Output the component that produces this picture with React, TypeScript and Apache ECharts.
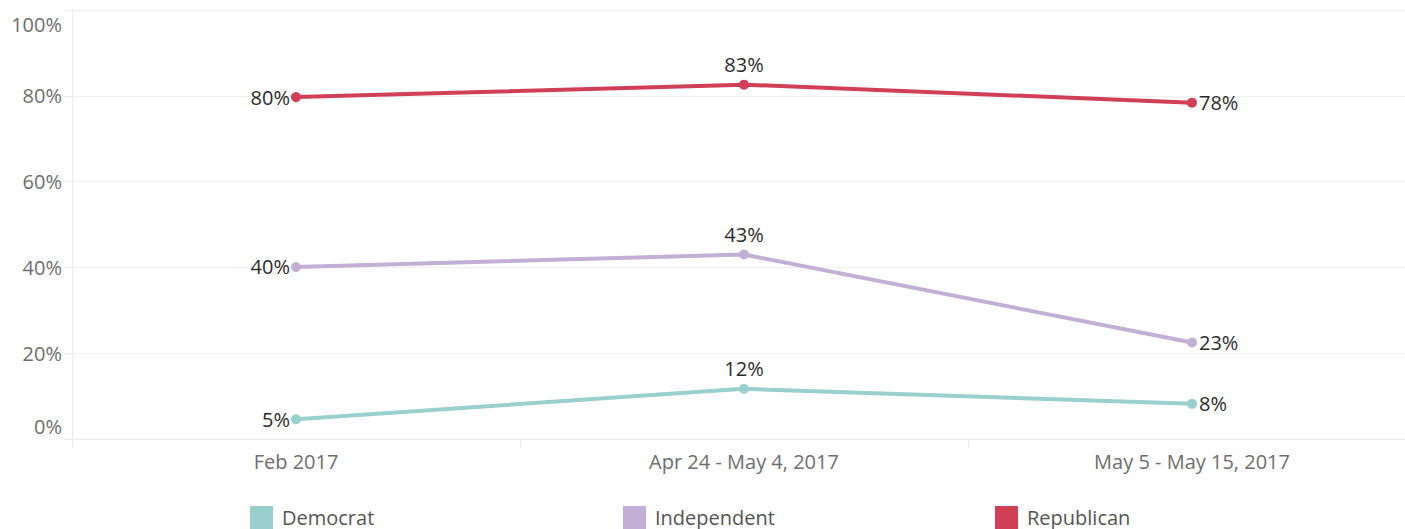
import React, { useEffect, useRef } from "react";
import * as echarts from "echarts";

const categories = ["Feb 2017", "Apr 24 - May 4, 2017", "May 5 - May 15, 2017"];
const democrat = [4.6, 11.7, 8.2];
const independent = [40.1, 43.0, 22.5];
const republican = [79.7, 82.6, 78.4];
const yTicks = [0, 20, 40, 60, 80, 100];

const seriesNames = ["Democrat", "Independent", "Republican"];
const seriesColors = ["#99cfcd", "#c3aed5", "#d13f57"];
const FONT = "Open Sans";

export default function App() {
  const ref = useRef<HTMLDivElement>(null);
  useEffect(() => {
    if (!ref.current) return;
    const chart = echarts.init(ref.current, undefined, { renderer: "svg" });
    const datasets = [democrat, independent, republican];
    const lastIdx = categories.length - 1;
    chart.setOption({
      animation: false,
      textStyle: { fontFamily: FONT },
      grid: { left: 72, right: 4, top: 10, bottom: 90, containLabel: false },
      xAxis: {
        type: "category",
        data: categories,
        boundaryGap: true,
        axisLine: { show: true, lineStyle: { color: "#ececec", width: 1 } },
        axisTick: { show: true, length: 9, lineStyle: { color: "#ececec" } },
        axisLabel: { color: "#6e6e6e", fontSize: 20, margin: 12, fontFamily: FONT },
        splitLine: { show: false },
      },
      yAxis: {
        type: "value",
        min: 0,
        max: 100,
        interval: 20,
        axisLine: { show: true, lineStyle: { color: "#ececec", width: 1 } },
        axisTick: { show: true, length: 8, lineStyle: { color: "#ececec" } },
        splitLine: { show: true, lineStyle: { color: "#f0f0f0", width: 1 } },
        axisLabel: {
          color: "#6e6e6e",
          fontSize: 20,
          margin: 10,
          fontFamily: FONT,
          formatter: (v: number) => {
            if (v === yTicks[0]) return "{lo|" + v + "%}";
            if (v === yTicks[yTicks.length - 1]) return "{hi|" + v + "%}";
            return v + "%";
          },
          rich: {
            lo: { color: "#6e6e6e", fontSize: 20, fontFamily: FONT, padding: [0, 0, 26, 0] },
            hi: { color: "#6e6e6e", fontSize: 20, fontFamily: FONT, padding: [28, 0, 0, 0] },
          },
        },
      },
      legend: seriesNames.map((n, i) => ({
        data: [n],
        left: [250, 623, 995][i],
        top: 506,
        padding: 0,
        icon: "rect",
        itemWidth: 23,
        itemHeight: 23,
        itemGap: 0,
        selectedMode: false,
        textStyle: { color: "#555", fontSize: 20, fontFamily: FONT, padding: [0, 0, 0, 4] },
      })),
      series: seriesNames.map((n, i) => ({
        name: n,
        type: "line",
        data: datasets[i].map((v, j) => ({
          value: v,
          label: {
            show: true,
            position: j === 0 ? "left" : j === lastIdx ? "right" : "top",
            distance: j === 0 ? 1 : j === lastIdx ? 2 : 5,
          },
        })),
        color: seriesColors[i],
        lineStyle: { width: 4, color: seriesColors[i] },
        itemStyle: { color: seriesColors[i] },
        symbol: "circle",
        symbolSize: 10,
        showSymbol: true,
        label: {
          show: true,
          color: "#2b2b2b",
          fontSize: 20,
          fontFamily: FONT,
          formatter: (p: any) => Math.round(p.value) + "%",
        },
      })),
    });
    return () => chart.dispose();
  }, []);
  return (
    <div
      ref={ref}
      style={{ position: "fixed", left: 0, top: 0, width: 1420, height: 529, background: "#fff" }}
    />
  );
}
